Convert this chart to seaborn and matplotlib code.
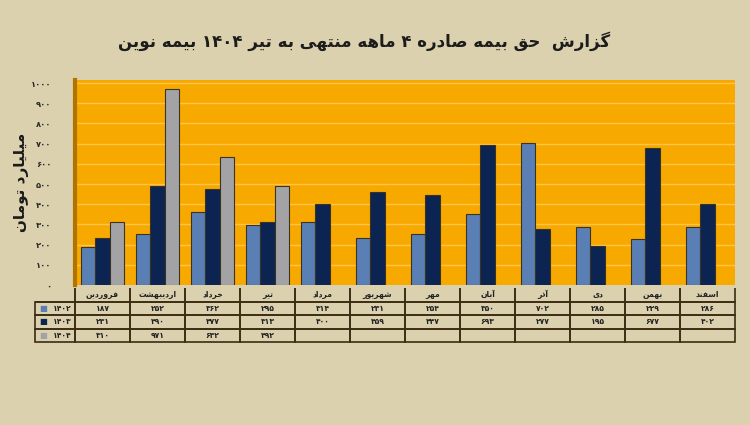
import re
import pandas as pd
import numpy as np
import matplotlib
matplotlib.use("Agg")
import matplotlib.pyplot as plt
import seaborn as sns

# --------------------------
# Data
# --------------------------
months = ["فروردین", "اردیبهشت", "خرداد", "تیر", "مرداد", "شهریور",
          "مهر", "آبان", "آذر", "دی", "بهمن", "اسفند"]
years = ["1402", "1403", "1404"]
vals_1402 = [187, 252, 362, 295, 314, 231, 254, 350, 702, 285, 229, 286]
vals_1403 = [231, 490, 477, 313, 400, 459, 447, 693, 277, 195, 677, 402]
vals_1404 = [310, 971, 632, 492, None, None, None, None, None, None, None, None]
yticks = [0, 100, 200, 300, 400, 500, 600, 700, 800, 900, 1000]

title = "گزارش  حق بیمه صادره 4 ماهه منتهی به تیر 1404 بیمه نوین"
ylabel = "میلیارد تومان"

colors = {"1402": "#5a7fb5", "1403": "#0c2452", "1404": "#a3a3a6"}

# --------------------------
# Tiny Persian shaper (matplotlib has no bidi / joining)
# --------------------------
FORMS = {  # isolated, final, initial, medial
    "ا": (0xFE8D, 0xFE8E), "آ": (0xFE81, 0xFE82), "د": (0xFEA9, 0xFEAA),
    "ذ": (0xFEAB, 0xFEAC), "ر": (0xFEAD, 0xFEAE), "ز": (0xFEAF, 0xFEB0),
    "ژ": (0xFB8A, 0xFB8B), "و": (0xFEED, 0xFEEE),
    "ب": (0xFE8F, 0xFE90, 0xFE91, 0xFE92), "پ": (0xFB56, 0xFB57, 0xFB58, 0xFB59),
    "ت": (0xFE95, 0xFE96, 0xFE97, 0xFE98), "ث": (0xFE99, 0xFE9A, 0xFE9B, 0xFE9C),
    "ج": (0xFE9D, 0xFE9E, 0xFE9F, 0xFEA0), "چ": (0xFB7A, 0xFB7B, 0xFB7C, 0xFB7D),
    "ح": (0xFEA1, 0xFEA2, 0xFEA3, 0xFEA4), "خ": (0xFEA5, 0xFEA6, 0xFEA7, 0xFEA8),
    "س": (0xFEB1, 0xFEB2, 0xFEB3, 0xFEB4), "ش": (0xFEB5, 0xFEB6, 0xFEB7, 0xFEB8),
    "ص": (0xFEB9, 0xFEBA, 0xFEBB, 0xFEBC), "ض": (0xFEBD, 0xFEBE, 0xFEBF, 0xFEC0),
    "ط": (0xFEC1, 0xFEC2, 0xFEC3, 0xFEC4), "ظ": (0xFEC5, 0xFEC6, 0xFEC7, 0xFEC8),
    "ع": (0xFEC9, 0xFECA, 0xFECB, 0xFECC), "غ": (0xFECD, 0xFECE, 0xFECF, 0xFED0),
    "ف": (0xFED1, 0xFED2, 0xFED3, 0xFED4), "ق": (0xFED5, 0xFED6, 0xFED7, 0xFED8),
    "ک": (0xFB8E, 0xFB8F, 0xFB90, 0xFB91), "گ": (0xFB92, 0xFB93, 0xFB94, 0xFB95),
    "ل": (0xFEDD, 0xFEDE, 0xFEDF, 0xFEE0), "م": (0xFEE1, 0xFEE2, 0xFEE3, 0xFEE4),
    "ن": (0xFEE5, 0xFEE6, 0xFEE7, 0xFEE8), "ه": (0xFEE9, 0xFEEA, 0xFEEB, 0xFEEC),
    "ی": (0xFBFC, 0xFBFD, 0xFBFE, 0xFBFF),
}
FA_DIGITS = str.maketrans("0123456789", "۰۱۲۳۴۵۶۷۸۹")


def fa(text):
    out = []
    for i, ch in enumerate(text):
        f = FORMS.get(ch)
        if f is None:
            out.append(ch)
            continue
        prev = FORMS.get(text[i - 1]) if i > 0 else None
        nxt = FORMS.get(text[i + 1]) if i + 1 < len(text) else None
        join_prev = prev is not None and len(prev) == 4
        join_next = len(f) == 4 and nxt is not None
        if join_prev and join_next:
            code = f[3]
        elif join_prev:
            code = f[1]
        elif join_next:
            code = f[2]
        else:
            code = f[0]
        out.append(chr(code))
    s = "".join(out)[::-1]
    # digit runs stay left-to-right
    s = re.sub(r"[0-9]+", lambda m: m.group(0)[::-1], s)
    return s.translate(FA_DIGITS)


def num(v):
    return "" if v is None else str(v).translate(FA_DIGITS)


# --------------------------
# Long table for seaborn
# --------------------------
rows = []
for y, vals in zip(years, [vals_1402, vals_1403, vals_1404]):
    for m, v in zip(months, vals):
        rows.append({"month": m, "year": y, "value": v})
df = pd.DataFrame(rows).dropna()

bg = "#dbd1af"
sns.set_theme(style="white")
plt.rcParams["font.family"] = ["DejaVu Sans"]

fig = plt.figure(figsize=(7.5, 4.25), dpi=100, facecolor=bg)
ax = fig.add_axes([75 / 750, 1 - 285 / 425, 660 / 750, 205 / 425])
ax.set_facecolor("#f7a900")

sns.barplot(data=df, x="month", y="value", hue="year", order=months,
            hue_order=years, palette=colors, width=0.78, saturation=1,
            edgecolor="#3a3222", linewidth=0.8, legend=False, ax=ax,
            errorbar=None)

ax.set_ylim(0, 1015)
ax.set_xlim(-0.5, len(months) - 0.5)
ax.set_yticks(yticks)
ax.set_yticklabels([num(t) for t in yticks], fontsize=6, fontweight="bold",
                   color="#2a2a2a")
ax.tick_params(axis="y", length=0, pad=17)
ax.set_xticks([])
ax.set_xlabel("")
ax.set_ylabel(fa(ylabel), fontsize=11, fontweight="bold", color="#1a1a1a",
              labelpad=1)
for yv in yticks[1:]:
    ax.axhline(yv, color="#ffc448", lw=1, zorder=0.5)
ax.set_axisbelow(True)
for s in ["top", "right", "bottom"]:
    ax.spines[s].set_visible(False)
ax.spines["left"].set_color("#b27400")
ax.spines["left"].set_linewidth(3)

fig.text(0.485, 1 - 41 / 425, fa(title), ha="center", va="center",
         fontsize=12, fontweight="bold", color="#1c1c1c")

# --------------------------
# Data table under the bars
# --------------------------
label_w = 40 / 660
cell_text = [[""] + [fa(m) for m in months]]
for y, vals in zip(years, [vals_1402, vals_1403, vals_1404]):
    cell_text.append([num(y)] + [num(v) for v in vals])
tbl_h = 54 / 205
tbl_y = -(288 + 54 - 285) / 205
tbl = ax.table(cellText=cell_text, cellLoc="center",
               colWidths=[label_w] + [1 / 12] * 12,
               bbox=[-label_w, tbl_y, 1 + label_w, tbl_h])
tbl.auto_set_font_size(False)
tbl.set_fontsize(5.5)
for (r, c), cell in tbl.get_celld().items():
    cell.set_facecolor("none")
    cell.set_edgecolor("#3b2c12")
    cell.set_linewidth(1.2)
    cell.get_text().set_color("#222222")
    cell.get_text().set_fontweight("bold")
    if r == 0:
        cell.visible_edges = "BR" if c == 0 else "BLR"
    if c == 0 and r > 0:
        cell.get_text().set_ha("right")
        cell.PAD = 0.08

# colour keys in the label column
row_h = tbl_h / 4
for i, y in enumerate(years):
    yc = tbl_y + tbl_h - row_h * (i + 1.5)
    ax.text(-label_w + 0.006, yc, "■", transform=ax.transAxes, fontsize=6,
            color=colors[y], ha="left", va="center")

fig.savefig("out.png", dpi=100, facecolor=bg)
